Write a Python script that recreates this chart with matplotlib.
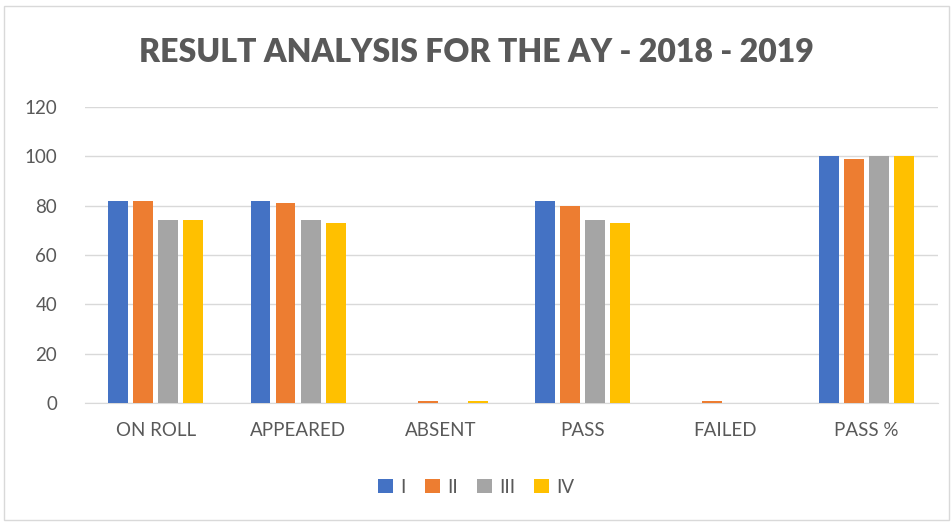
import matplotlib.pyplot as plt
from matplotlib.patches import Rectangle
import numpy as np

categories = ['ON ROLL', 'APPEARED', 'ABSENT', 'PASS', 'FAILED', 'PASS %']
series_names = ['I', 'II', 'III', 'IV']
year_I = [82, 82, 0, 82, 0, 100]
year_II = [82, 81, 1, 80, 1, 98.8]
year_III = [74, 74, 0, 74, 0, 100]
year_IV = [74, 73, 1, 73, 0, 100]
colors = ['#4472C4', '#ED7D31', '#A5A5A5', '#FFC000']

plt.rcParams['font.family'] = ['Lato', 'DejaVu Sans']

fig = plt.figure(figsize=(9.53, 5.22), dpi=100)
ax = fig.add_axes([0.089, 0.228, 0.895, 0.567])

x = np.arange(len(categories))
step = 0.176
width = 0.14
for i, (vals, name, c) in enumerate(zip([year_I, year_II, year_III, year_IV], series_names, colors)):
    ax.bar(x + (i - 1.5) * step, vals, width, color=c, label=name, zorder=3)

ax.set_xlim(-0.5, len(categories) - 0.5)
ax.set_ylim(0, 120)
ax.set_yticks(range(0, 121, 20))
ax.set_xticks(x)
ax.set_xticklabels(categories)
ax.grid(axis='y', color='#D9D9D9', linewidth=1, zorder=0)
for s in ['top', 'right', 'left']:
    ax.spines[s].set_visible(False)
ax.spines['bottom'].set_color('#D9D9D9')
ax.tick_params(axis='both', length=0, labelsize=13.5, colors='#595959')
ax.tick_params(axis='x', pad=14)
ax.tick_params(axis='y', pad=20)

fig.text(0.5, 0.9, 'RESULT ANALYSIS FOR THE AY - 2018 - 2019', ha='center', va='center',
         fontsize=23, fontweight='heavy', color='#595959')

fig.legend(loc='center', bbox_to_anchor=(0.5, 0.067), ncol=4, frameon=False,
           fontsize=13.5, handlelength=0.8, handleheight=0.8, columnspacing=1.0,
           handletextpad=0.4, labelcolor='#595959')

fig.patches.append(Rectangle((0.004, 0.004), 0.992, 0.985, transform=fig.transFigure,
                             fill=False, edgecolor='#D9D9D9', linewidth=1))

fig.savefig('out.png', dpi=100)
